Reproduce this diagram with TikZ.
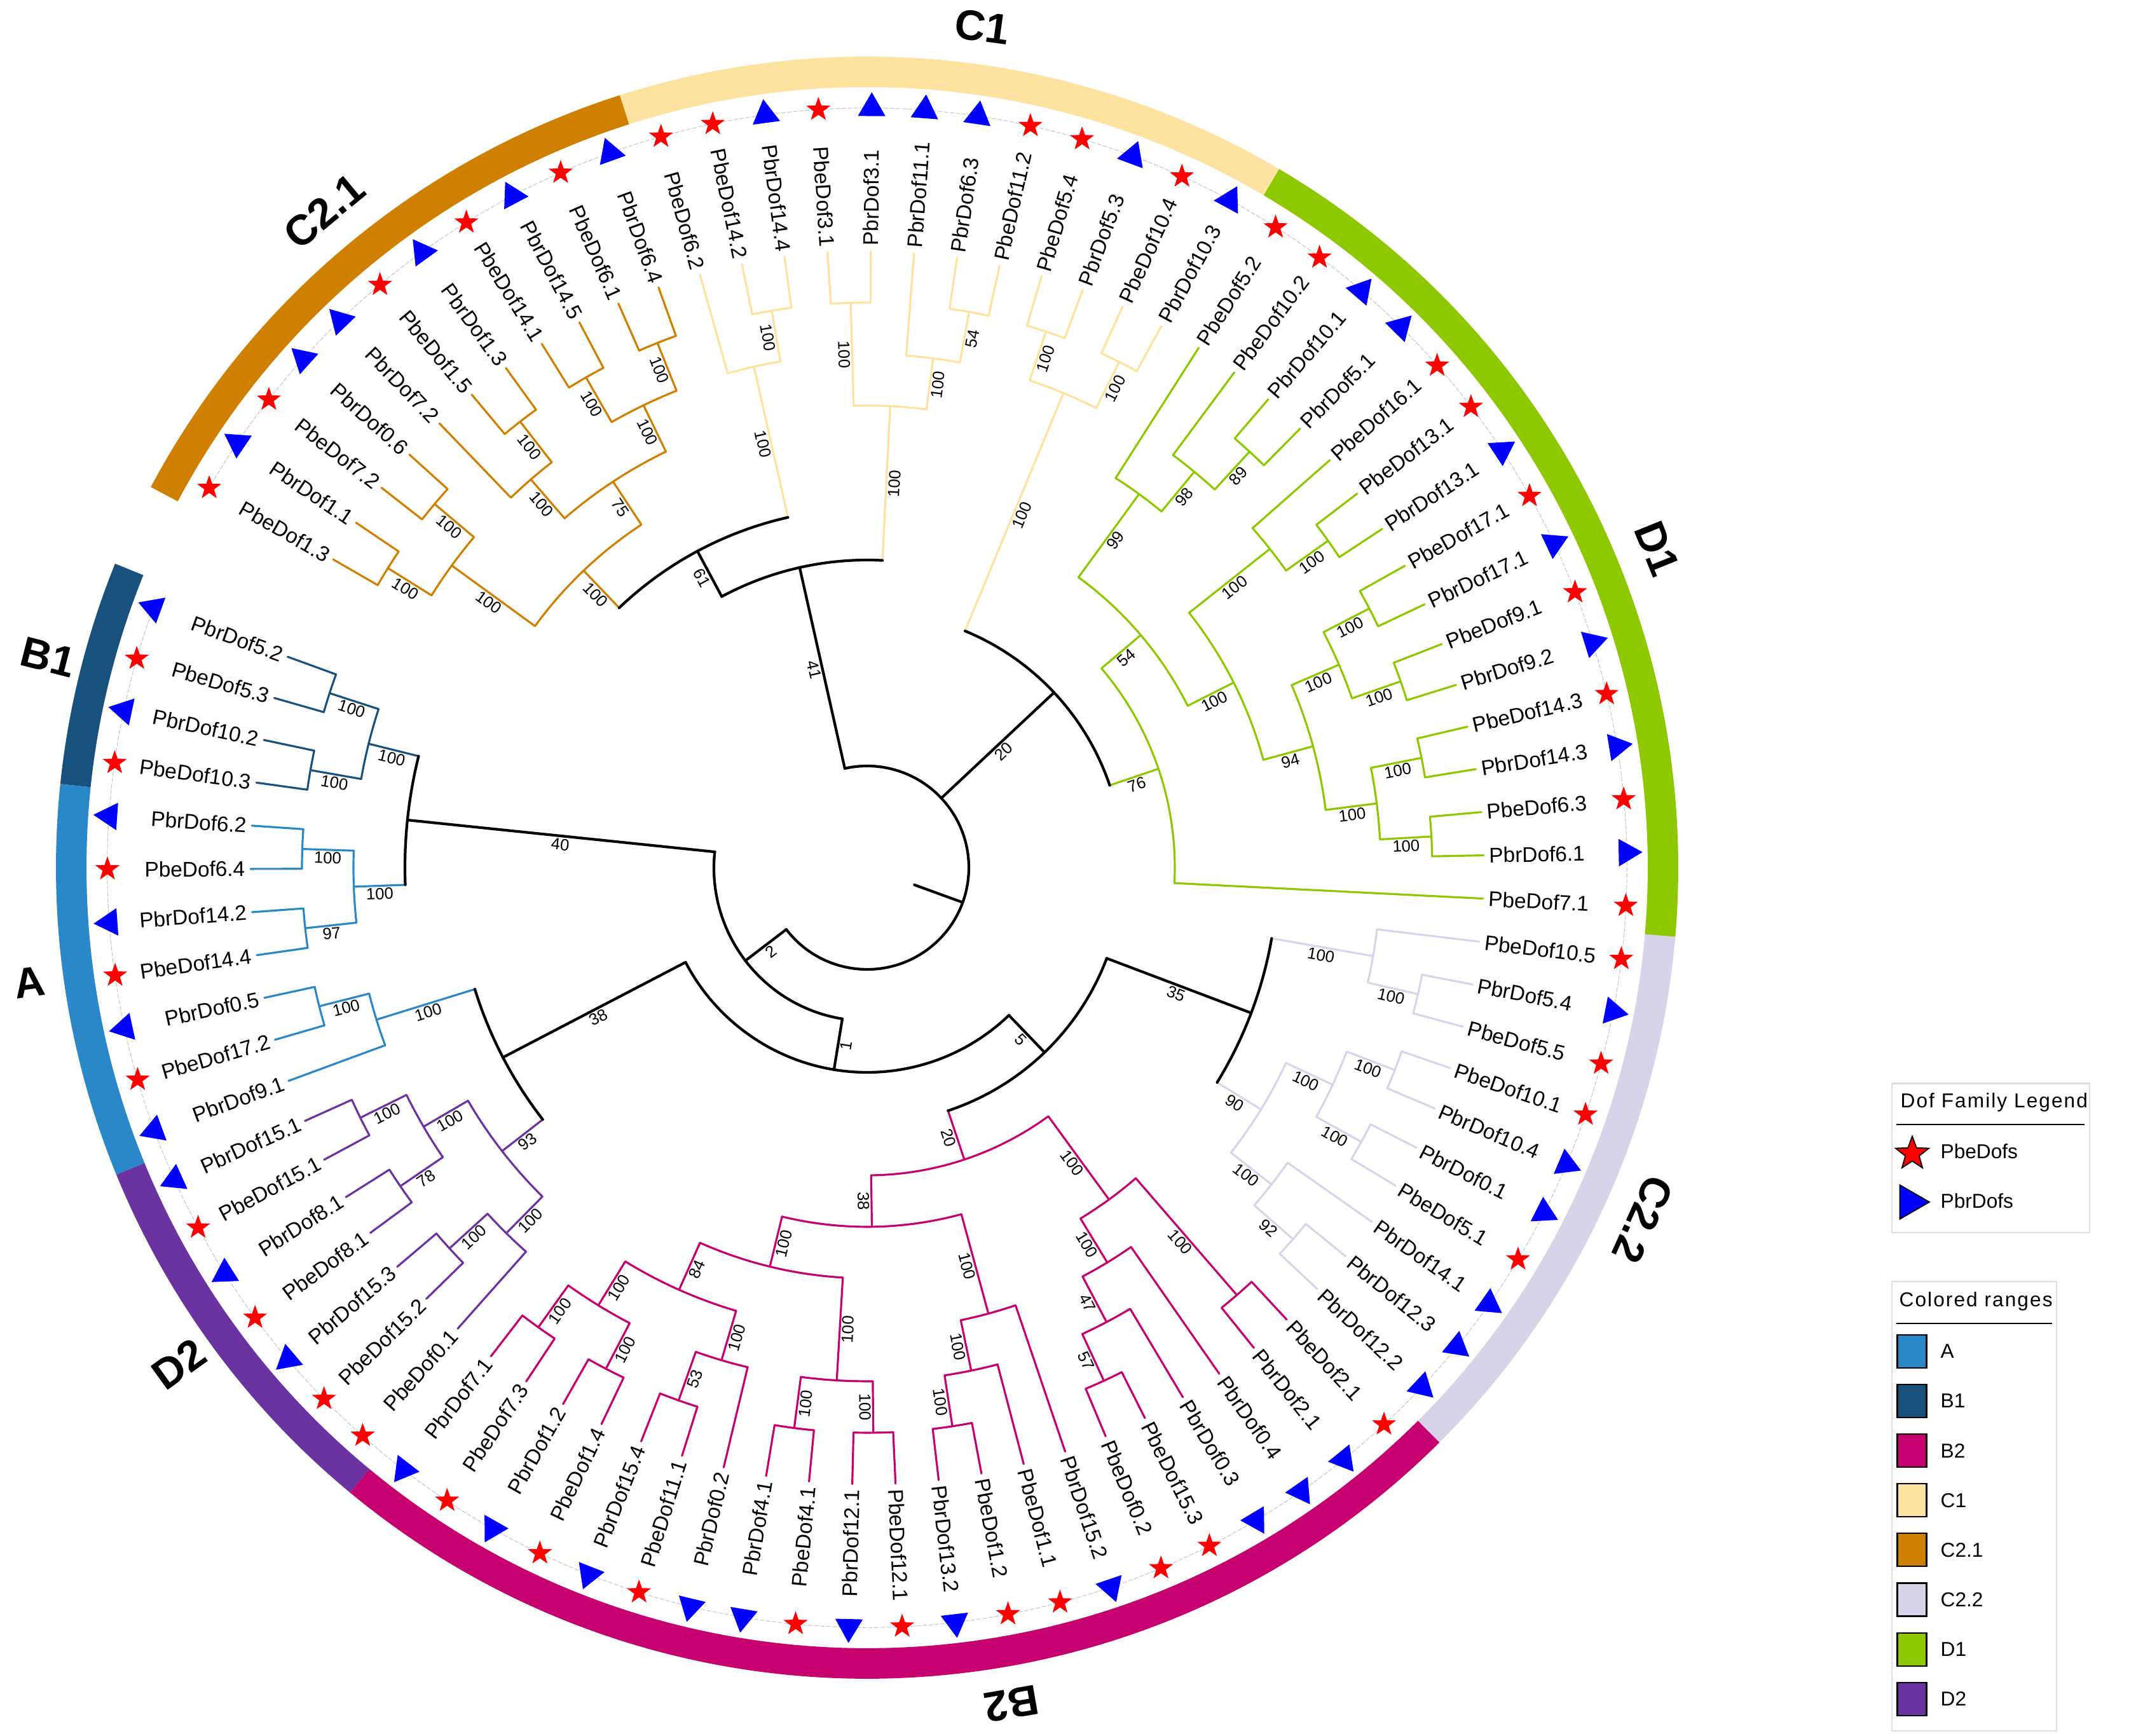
\documentclass[tikz,border=0pt]{standalone}
\usepackage{fontspec}
\setmainfont{Liberation Sans}
\usetikzlibrary{shapes.geometric}

\definecolor{rangeA}{HTML}{2A87C8}
\definecolor{rangeB1}{HTML}{18527C}
\definecolor{rangeB2}{HTML}{C7006F}
\definecolor{rangeC1}{HTML}{FEE2A0}
\definecolor{rangeC21}{HTML}{D08000}
\definecolor{rangeC22}{HTML}{D9D3E9}
\definecolor{rangeD1}{HTML}{8DC800}
\definecolor{rangeD2}{HTML}{6B33A0}
\definecolor{keygray}{HTML}{DDDDDD}

% radii (cm): leaf tips, one depth level, markers
\newcommand\tipR{9.7}
\newcommand\levelR{0.81}
\newcommand\markR{11.95}

% node store: name, angle, radius, colour, bootstrap, width
\newcommand\keepnode[6]{%
  \expandafter\xdef\csname tree@a@#1\endcsname{#2}%
  \expandafter\xdef\csname tree@r@#1\endcsname{#3}%
  \expandafter\xdef\csname tree@c@#1\endcsname{#4}%
  \expandafter\xdef\csname tree@b@#1\endcsname{#5}%
  \expandafter\xdef\csname tree@w@#1\endcsname{#6}}
\newcommand\angof[1]{\csname tree@a@#1\endcsname}
\newcommand\radof[1]{\csname tree@r@#1\endcsname}
\newcommand\colof[1]{\csname tree@c@#1\endcsname}
\newcommand\bootof[1]{\csname tree@b@#1\endcsname}
\newcommand\widof[1]{\csname tree@w@#1\endcsname}

% leaf: index, label, marker (be/br), colour
\newcommand\leaf[4]{%
  \pgfmathsetmacro\leafA{160+350/87*#1}%
  \keepnode{L#1}{\leafA}{\tipR}{#4}{}{0.9pt}%
  \coordinate (L#1) at ({\leafA}:{\tipR});
  \pgfmathtruncatemacro\leafF{(mod(\leafA,360)>90)&&(mod(\leafA,360)<270)}%
  \ifnum\leafF=1
    \node[leaflabel, rotate=\leafA-180, anchor=east] (L#1-txt) at ({\leafA}:{\tipR+0.08}) {#2};
  \else
    \node[leaflabel, rotate=\leafA, anchor=west] (L#1-txt) at ({\leafA}:{\tipR+0.08}) {#2};
  \fi
  \node[mk#3] (L#1-mk) at ({\leafA}:{\markR}) {};
}

% radial branch from a parent out to one child
\newcommand\branch[2]{%
  \edef\brA{\angof{#2}}\edef\brR{\radof{#1}}%
  \edef\brcol{\colof{#2}}\edef\brw{\widof{#2}}\edef\brboot{\bootof{#2}}%
  \coordinate (#2-base) at ({\brA}:{\brR});
  \ifx\brboot\empty
    \draw[treeline, draw=\brcol, line width=\brw] (#2-base) -- (#2);
  \else
    \draw[treeline, draw=\brcol, line width=\brw] (#2-base) -- node[boot] {\brboot} (#2);
  \fi
}

% clade: name, first child, last child, depth level, colour, bootstrap
\newcommand\clade[6]{%
  \edef\firstA{\angof{#2}}\edef\lastA{\angof{#3}}%
  \pgfmathsetmacro\cladeA{(\firstA+\lastA)/2}%
  \pgfmathsetmacro\cladeR{\tipR-\levelR*#4}%
  \def\cladeC{#5}\def\blackC{black}%
  \ifx\cladeC\blackC\def\cladeW{1.2pt}\else\def\cladeW{0.9pt}\fi
  \keepnode{#1}{\cladeA}{\cladeR}{#5}{#6}{\cladeW}%
  \coordinate (#1) at ({\cladeA}:{\cladeR});
  \branch{#1}{#2}
  \branch{#1}{#3}
  \draw[treeline, draw=#5, line width=\cladeW] (#2-base) arc[start angle=\firstA, end angle=\lastA, radius=\cladeR];
}

% coloured range on the outer ring: first leaf, last leaf, colour
\newcommand\rangering[3]{%
  \pgfmathsetmacro\ringA{160+350/87*(#1-0.5)}%
  \pgfmathsetmacro\ringB{160+350/87*(#2+0.5)}%
  \fill[#3] ({\ringA}:12.28) arc[start angle=\ringA, end angle=\ringB, radius=12.28]
    -- ({\ringB}:12.76) arc[start angle=\ringB, end angle=\ringA, radius=12.76] -- cycle;
}

\tikzset{
  treeline/.style={line cap=round, line join=round},
  boot/.style={midway, sloped, below, inner sep=0.6pt, font=\fontsize{7.3}{8}\selectfont},
  leaflabel/.style={inner sep=0pt, font=\fontsize{9.5}{11}\selectfont},
  mkbe/.style={star, star points=5, star point ratio=2.5, fill=red, inner sep=0pt, minimum size=0.4cm},
  mkbr/.style={regular polygon, regular polygon sides=3, fill=blue, inner sep=0pt, minimum size=0.5cm, rotate=\leafA-90},
  markline/.style={gray!45, line width=0.3pt, dash pattern=on 2pt off 0.7pt},
  rangelabel/.style={font=\fontsize{19}{22}\selectfont\bfseries, inner sep=0pt},
  keybox/.style={draw=keygray, line width=0.6pt, inner sep=0pt, anchor=north west},
  keytitle/.style={font=\fontsize{9}{11}\selectfont\addfontfeatures{LetterSpace=6.5}, anchor=west, inner sep=0pt},
  keytext/.style={font=\fontsize{9}{11}\selectfont, anchor=west, inner sep=0pt},
  keysquare/.style={draw=black, line width=0.6pt, minimum width=0.46cm, minimum height=0.52cm, inner sep=0pt},
}

\begin{document}
\begin{tikzpicture}
\useasboundingbox (-13.64,-13.66) rectangle (20.18,13.65);

% Ranges
\rangering{0}{3}{rangeB1}
\rangering{4}{10}{rangeA}
\rangering{11}{17}{rangeD2}
\rangering{18}{38}{rangeB2}
\rangering{39}{48}{rangeC22}
\rangering{49}{64}{rangeD1}
\rangering{65}{76}{rangeC1}
\rangering{77}{87}{rangeC21}

\node[rangelabel, rotate=-7.8] (nameC1) at (82.2:13.35) {C1};
\node[rangelabel, rotate=-68] (nameD1) at (22:13.4) {D1};
\node[rangelabel, rotate=-114.4] (nameC22) at (-24.4:13.4) {C2.2};
\node[rangelabel, rotate=-170.2] (nameB2) at (-80.2:13.35) {B2};
\node[rangelabel, rotate=35.8] (nameD2) at (215.8:13.35) {D2};
\node[rangelabel, rotate=7.8] (nameA) at (187.8:13.3) {A};
\node[rangelabel, rotate=-14.4] (nameB1) at (165.6:13.3) {B1};
\node[rangelabel, rotate=39.6] (nameC21) at (129.6:13.4) {C2.1};

\draw[markline] (160:\markR) arc[start angle=160, end angle=510, radius=\markR];

% Leaves
\leaf{0}{PbrDof5.2}{br}{rangeB1}
\leaf{1}{PbeDof5.3}{be}{rangeB1}
\leaf{2}{PbrDof10.2}{br}{rangeB1}
\leaf{3}{PbeDof10.3}{be}{rangeB1}
\leaf{4}{PbrDof6.2}{br}{rangeA}
\leaf{5}{PbeDof6.4}{be}{rangeA}
\leaf{6}{PbrDof14.2}{br}{rangeA}
\leaf{7}{PbeDof14.4}{be}{rangeA}
\leaf{8}{PbrDof0.5}{br}{rangeA}
\leaf{9}{PbeDof17.2}{be}{rangeA}
\leaf{10}{PbrDof9.1}{br}{rangeA}
\leaf{11}{PbrDof15.1}{br}{rangeD2}
\leaf{12}{PbeDof15.1}{be}{rangeD2}
\leaf{13}{PbrDof8.1}{br}{rangeD2}
\leaf{14}{PbeDof8.1}{be}{rangeD2}
\leaf{15}{PbrDof15.3}{br}{rangeD2}
\leaf{16}{PbeDof15.2}{be}{rangeD2}
\leaf{17}{PbeDof0.1}{be}{rangeD2}
\leaf{18}{PbrDof7.1}{br}{rangeB2}
\leaf{19}{PbeDof7.3}{be}{rangeB2}
\leaf{20}{PbrDof1.2}{br}{rangeB2}
\leaf{21}{PbeDof1.4}{be}{rangeB2}
\leaf{22}{PbrDof15.4}{br}{rangeB2}
\leaf{23}{PbeDof11.1}{be}{rangeB2}
\leaf{24}{PbrDof0.2}{br}{rangeB2}
\leaf{25}{PbrDof4.1}{br}{rangeB2}
\leaf{26}{PbeDof4.1}{be}{rangeB2}
\leaf{27}{PbrDof12.1}{br}{rangeB2}
\leaf{28}{PbeDof12.1}{be}{rangeB2}
\leaf{29}{PbrDof13.2}{br}{rangeB2}
\leaf{30}{PbeDof1.2}{be}{rangeB2}
\leaf{31}{PbeDof1.1}{be}{rangeB2}
\leaf{32}{PbrDof15.2}{br}{rangeB2}
\leaf{33}{PbeDof0.2}{be}{rangeB2}
\leaf{34}{PbeDof15.3}{be}{rangeB2}
\leaf{35}{PbrDof0.3}{br}{rangeB2}
\leaf{36}{PbrDof0.4}{br}{rangeB2}
\leaf{37}{PbrDof2.1}{br}{rangeB2}
\leaf{38}{PbeDof2.1}{be}{rangeB2}
\leaf{39}{PbrDof12.2}{br}{rangeC22}
\leaf{40}{PbrDof12.3}{br}{rangeC22}
\leaf{41}{PbrDof14.1}{br}{rangeC22}
\leaf{42}{PbeDof5.1}{be}{rangeC22}
\leaf{43}{PbrDof0.1}{br}{rangeC22}
\leaf{44}{PbrDof10.4}{br}{rangeC22}
\leaf{45}{PbeDof10.1}{be}{rangeC22}
\leaf{46}{PbeDof5.5}{be}{rangeC22}
\leaf{47}{PbrDof5.4}{br}{rangeC22}
\leaf{48}{PbeDof10.5}{be}{rangeC22}
\leaf{49}{PbeDof7.1}{be}{rangeD1}
\leaf{50}{PbrDof6.1}{br}{rangeD1}
\leaf{51}{PbeDof6.3}{be}{rangeD1}
\leaf{52}{PbrDof14.3}{br}{rangeD1}
\leaf{53}{PbeDof14.3}{be}{rangeD1}
\leaf{54}{PbrDof9.2}{br}{rangeD1}
\leaf{55}{PbeDof9.1}{be}{rangeD1}
\leaf{56}{PbrDof17.1}{br}{rangeD1}
\leaf{57}{PbeDof17.1}{be}{rangeD1}
\leaf{58}{PbrDof13.1}{br}{rangeD1}
\leaf{59}{PbeDof13.1}{be}{rangeD1}
\leaf{60}{PbeDof16.1}{be}{rangeD1}
\leaf{61}{PbrDof5.1}{br}{rangeD1}
\leaf{62}{PbrDof10.1}{br}{rangeD1}
\leaf{63}{PbeDof10.2}{be}{rangeD1}
\leaf{64}{PbeDof5.2}{be}{rangeD1}
\leaf{65}{PbrDof10.3}{br}{rangeC1}
\leaf{66}{PbeDof10.4}{be}{rangeC1}
\leaf{67}{PbrDof5.3}{br}{rangeC1}
\leaf{68}{PbeDof5.4}{be}{rangeC1}
\leaf{69}{PbeDof11.2}{be}{rangeC1}
\leaf{70}{PbrDof6.3}{br}{rangeC1}
\leaf{71}{PbrDof11.1}{br}{rangeC1}
\leaf{72}{PbrDof3.1}{br}{rangeC1}
\leaf{73}{PbeDof3.1}{be}{rangeC1}
\leaf{74}{PbrDof14.4}{br}{rangeC1}
\leaf{75}{PbeDof14.2}{be}{rangeC1}
\leaf{76}{PbeDof6.2}{be}{rangeC1}
\leaf{77}{PbrDof6.4}{br}{rangeC21}
\leaf{78}{PbeDof6.1}{be}{rangeC21}
\leaf{79}{PbrDof14.5}{br}{rangeC21}
\leaf{80}{PbeDof14.1}{be}{rangeC21}
\leaf{81}{PbrDof1.3}{br}{rangeC21}
\leaf{82}{PbeDof1.5}{be}{rangeC21}
\leaf{83}{PbrDof7.2}{br}{rangeC21}
\leaf{84}{PbrDof0.6}{br}{rangeC21}
\leaf{85}{PbeDof7.2}{be}{rangeC21}
\leaf{86}{PbrDof1.1}{br}{rangeC21}
\leaf{87}{PbeDof1.3}{be}{rangeC21}

% Clades: B1 and A
\clade{b1a}{L0}{L1}{1}{rangeB1}{100}
\clade{b1b}{L2}{L3}{1}{rangeB1}{100}
\clade{B1}{b1a}{b1b}{2}{rangeB1}{100}
\clade{a1}{L4}{L5}{1}{rangeA}{100}
\clade{a2}{L6}{L7}{1}{rangeA}{97}
\clade{A1}{a1}{a2}{2}{rangeA}{100}
\clade{n40}{B1}{A1}{3}{black}{40}
\clade{a3}{L8}{L9}{1}{rangeA}{100}
\clade{A2}{a3}{L10}{2}{rangeA}{100}
% D2
\clade{d2a}{L11}{L12}{1}{rangeD2}{100}
\clade{d2b}{L13}{L14}{1}{rangeD2}{78}
\clade{d2c}{d2a}{d2b}{2}{rangeD2}{100}
\clade{d2d}{L15}{L16}{1}{rangeD2}{100}
\clade{d2e}{d2d}{L17}{2}{rangeD2}{100}
\clade{D2}{d2c}{d2e}{3}{rangeD2}{93}
\clade{n38}{A2}{D2}{4}{black}{38}
% B2
\clade{b2a}{L18}{L19}{1}{rangeB2}{100}
\clade{b2b}{L20}{L21}{1}{rangeB2}{100}
\clade{b2c}{b2a}{b2b}{2}{rangeB2}{100}
\clade{b2d}{L22}{L23}{1}{rangeB2}{53}
\clade{b2e}{b2d}{L24}{2}{rangeB2}{100}
\clade{b2f}{b2c}{b2e}{3}{rangeB2}{84}
\clade{b2g}{L25}{L26}{1}{rangeB2}{100}
\clade{b2h}{L27}{L28}{1}{rangeB2}{100}
\clade{b2i}{b2g}{b2h}{2}{rangeB2}{100}
\clade{b2j}{b2f}{b2i}{4}{rangeB2}{100}
\clade{b2k}{L29}{L30}{1}{rangeB2}{100}
\clade{b2l}{b2k}{L31}{2}{rangeB2}{100}
\clade{b2m}{b2l}{L32}{3}{rangeB2}{100}
\clade{b2n}{b2j}{b2m}{5}{rangeB2}{38}
\clade{b2o}{L33}{L34}{1}{rangeB2}{57}
\clade{b2p}{b2o}{L35}{2}{rangeB2}{47}
\clade{b2q}{b2p}{L36}{3}{rangeB2}{100}
\clade{b2r}{L37}{L38}{1}{rangeB2}{100}
\clade{b2s}{b2q}{b2r}{4}{rangeB2}{100}
\clade{B2}{b2n}{b2s}{6}{rangeB2}{20}
% C2.2
\clade{c22a}{L39}{L40}{1}{rangeC22}{92}
\clade{c22b}{c22a}{L41}{2}{rangeC22}{100}
\clade{c22c}{L42}{L43}{1}{rangeC22}{100}
\clade{c22d}{L44}{L45}{1}{rangeC22}{100}
\clade{c22e}{c22c}{c22d}{2}{rangeC22}{100}
\clade{c22f}{c22b}{c22e}{3}{rangeC22}{90}
\clade{c22g}{L46}{L47}{1}{rangeC22}{100}
\clade{c22h}{c22g}{L48}{2}{rangeC22}{100}
\clade{C22}{c22f}{c22h}{4}{black}{35}
\clade{n5}{B2}{C22}{7}{black}{5}
\clade{n1}{n38}{n5}{8}{black}{1}
\clade{n2}{n40}{n1}{9}{black}{2}
% D1
\clade{d1a}{L50}{L51}{1}{rangeD1}{100}
\clade{d1b}{L52}{L53}{1}{rangeD1}{100}
\clade{d1c}{d1a}{d1b}{2}{rangeD1}{100}
\clade{d1d}{L54}{L55}{1}{rangeD1}{100}
\clade{d1e}{L56}{L57}{1}{rangeD1}{100}
\clade{d1f}{d1d}{d1e}{2}{rangeD1}{100}
\clade{d1g}{d1c}{d1f}{3}{rangeD1}{94}
\clade{d1h}{L58}{L59}{1}{rangeD1}{100}
\clade{d1i}{d1h}{L60}{2}{rangeD1}{100}
\clade{d1j}{d1g}{d1i}{4}{rangeD1}{100}
\clade{d1k}{L61}{L62}{1}{rangeD1}{89}
\clade{d1l}{d1k}{L63}{2}{rangeD1}{98}
\clade{d1m}{d1l}{L64}{3}{rangeD1}{99}
\clade{d1n}{d1j}{d1m}{5}{rangeD1}{54}
\clade{D1}{L49}{d1n}{6}{rangeD1}{76}
% C1
\clade{c1a}{L65}{L66}{1}{rangeC1}{100}
\clade{c1b}{L67}{L68}{1}{rangeC1}{100}
\clade{C1a}{c1a}{c1b}{2}{rangeC1}{100}
\clade{n20}{D1}{C1a}{7}{black}{20}
\clade{c1c}{L69}{L70}{1}{rangeC1}{54}
\clade{c1d}{c1c}{L71}{2}{rangeC1}{100}
\clade{c1e}{L72}{L73}{1}{rangeC1}{100}
\clade{C1c}{c1d}{c1e}{3}{rangeC1}{100}
\clade{c1f}{L74}{L75}{1}{rangeC1}{100}
\clade{C1b}{c1f}{L76}{2}{rangeC1}{100}
% C2.1
\clade{c21a}{L77}{L78}{1}{rangeC21}{100}
\clade{c21b}{L79}{L80}{1}{rangeC21}{100}
\clade{c21c}{c21a}{c21b}{2}{rangeC21}{100}
\clade{c21d}{L81}{L82}{1}{rangeC21}{100}
\clade{c21e}{c21d}{L83}{2}{rangeC21}{100}
\clade{c21f}{c21c}{c21e}{3}{rangeC21}{75}
\clade{c21g}{L84}{L85}{1}{rangeC21}{100}
\clade{c21h}{L86}{L87}{1}{rangeC21}{100}
\clade{c21i}{c21g}{c21h}{2}{rangeC21}{100}
\clade{C21}{c21f}{c21i}{4}{rangeC21}{100}
\clade{n61}{C1b}{C21}{5}{black}{61}
\clade{Cn}{C1c}{n61}{6}{black}{41}

% Root
\edef\firstA{\angof{n2}}\edef\lastA{\angof{Cn}}
\pgfmathsetmacro\rootA{(\firstA+\lastA)/2}
\keepnode{root}{\rootA}{1.6}{black}{}{1.2pt}
\coordinate (root) at ({\rootA}:1.6);
\coordinate (rootend) at ({\rootA}:0.79);
\branch{root}{n2}
\branch{root}{n20}
\branch{root}{Cn}
\draw[treeline, line width=1.2pt] (n2-base) arc[start angle=\firstA, end angle=\lastA, radius=1.6];
\draw[treeline, line width=1.2pt] (root) -- (rootend);

% Legend
\node[keybox, minimum width=3.11cm, minimum height=2.345cm] (famkey) at (16.11,-3.385) {};
\node[keytitle] (famtitle) at (16.25,-3.69) {Dof Family Legend};
\coordinate (famrule-l) at (16.185,-4.04);
\coordinate (famrule-r) at (19.15,-4.04);
\draw[line width=0.6pt] (famrule-l) -- (famrule-r);
\node[star, star points=5, star point ratio=2.4, fill=red, draw=black, line width=0.5pt, inner sep=0pt, minimum size=0.55cm] (keybe) at (16.44,-4.5) {};
\node[keytext] (keybetxt) at (16.88,-4.46) {PbeDofs};
\node[regular polygon, regular polygon sides=3, rotate=-90, fill=blue, draw=black, line width=0.5pt, inner sep=0pt, minimum size=0.62cm] (keybr) at (16.40,-5.26) {};
\node[keytext] (keybrtxt) at (16.88,-5.24) {PbrDofs};

\node[keybox, minimum width=2.59cm, minimum height=7.07cm] (rangekey) at (16.11,-6.50) {};
\node[keytitle] (rangetitle) at (16.23,-6.82) {Colored ranges};
\coordinate (rangerule-l) at (16.185,-7.17);
\coordinate (rangerule-r) at (18.64,-7.17);
\draw[line width=0.6pt] (rangerule-l) -- (rangerule-r);
\foreach \lab/\col [count=\i] in {A/rangeA, B1/rangeB1, B2/rangeB2, C1/rangeC1, C2.1/rangeC21, C2.2/rangeC22, D1/rangeD1, D2/rangeD2} {
  \node[keysquare, fill=\col] (key\i) at (16.435, {-7.61-0.781*(\i-1)}) {};
  \node[keytext] (keytxt\i) at (16.88, {-7.61-0.781*(\i-1)}) {\lab};
}
\end{tikzpicture}
\end{document}
